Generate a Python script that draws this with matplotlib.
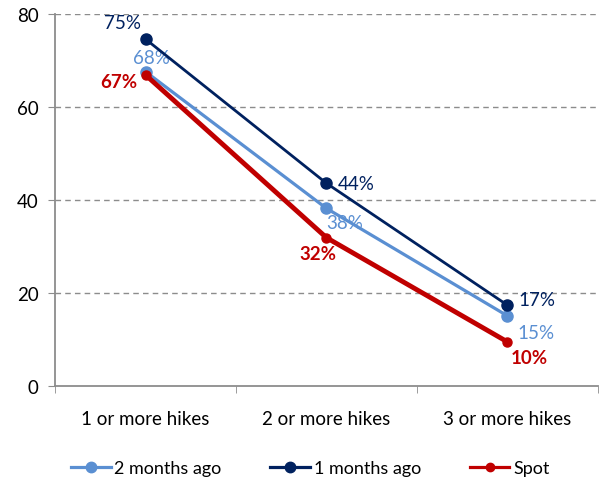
import matplotlib
matplotlib.use("Agg")
import matplotlib.pyplot as plt
from matplotlib.lines import Line2D
import numpy as np

categories = ["1 or more hikes", "2 or more hikes", "3 or more hikes"]
two_months = [67.6, 38.2, 15.1]
one_month = [74.6, 43.6, 17.4]
spot = [66.9, 31.9, 9.5]
two_labels = ["68%", "38%", "15%"]
one_labels = ["75%", "44%", "17%"]
spot_labels = ["67%", "32%", "10%"]
series_names = ["2 months ago", "1 months ago", "Spot"]
yticks = [0, 20, 40, 60, 80]

c_light = "#5A8FD2"
c_navy = "#00215F"
c_red = "#C00000"

plt.rcParams['font.family'] = ['Lato', 'DejaVu Sans']

fig = plt.figure(figsize=(5.99, 4.81), dpi=100)
ax = fig.add_axes([0.092, 0.1954, 0.906, 0.7734])

x = np.arange(len(categories))
ax.plot(x, two_months, color=c_light, lw=2.3, marker='o', ms=8, zorder=3)
ax.plot(x, one_month, color=c_navy, lw=2.0, marker='o', ms=8, zorder=4)
ax.plot(x, spot, color=c_red, lw=3.5, marker='o', ms=6.5, zorder=5)

ax.set_xlim(-0.5, 2.5)
ax.set_ylim(0, 80)
ax.set_yticks(yticks)
ax.set_xticks(x)
ax.set_xticklabels(categories, fontsize=13.5)
ax.set_xticks([-0.5, 0.5, 1.5, 2.5], minor=True)
ax.tick_params(axis='x', which='major', length=0, pad=17)
ax.tick_params(axis='x', which='minor', length=5, color='#8C8C8C', direction='out')
ax.tick_params(axis='y', length=5, color='#8C8C8C', labelsize=13.5, pad=7)

for yv in yticks[1:]:
    ax.axhline(yv, color='#8C8C8C', lw=1.0, ls=(0, (4, 3)), zorder=1)

for s in ['top', 'right']:
    ax.spines[s].set_visible(False)
for s in ['left', 'bottom']:
    ax.spines[s].set_color('#8C8C8C')
    ax.spines[s].set_linewidth(1.3)

fs = 13.5
offs_one = [(-3, 6, 'right', 'bottom'), (8, 0, 'left', 'center'), (8, 4, 'left', 'center')]
for xi, yi, lab, (dx, dy, ha, va) in zip(x, one_month, one_labels, offs_one):
    ax.annotate(lab, (xi, yi), xytext=(dx, dy), textcoords='offset points', ha=ha, va=va,
                color=c_navy, fontsize=fs)
offs_two = [(4, 4, 'center', 'bottom'), (0, -4, 'left', 'top'), (7, -6, 'left', 'top')]
for xi, yi, lab, (dx, dy, ha, va) in zip(x, two_months, two_labels, offs_two):
    ax.annotate(lab, (xi, yi), xytext=(dx, dy), textcoords='offset points', ha=ha, va=va,
                color=c_light, fontsize=fs)
offs_spot = [(-6, -5, 'right', 'center'), (-6, -5, 'center', 'top'), (16, -5, 'center', 'top')]
for xi, yi, lab, (dx, dy, ha, va) in zip(x, spot, spot_labels, offs_spot):
    ax.annotate(lab, (xi, yi), xytext=(dx, dy), textcoords='offset points', ha=ha, va=va,
                color=c_red, fontsize=fs, fontweight='bold')

handles = [
    Line2D([], [], color=c_light, lw=2.3, marker='o', ms=7.5),
    Line2D([], [], color=c_navy, lw=2.3, marker='o', ms=7.5),
    Line2D([], [], color=c_red, lw=2.3, marker='o', ms=6),
]
ax.legend(handles, series_names, loc='center', bbox_to_anchor=(0.47, -0.22), ncol=3, frameon=False,
          fontsize=13, handlelength=2.2, handletextpad=0.2, columnspacing=2.7)

fig.savefig("out.png", dpi=100)
